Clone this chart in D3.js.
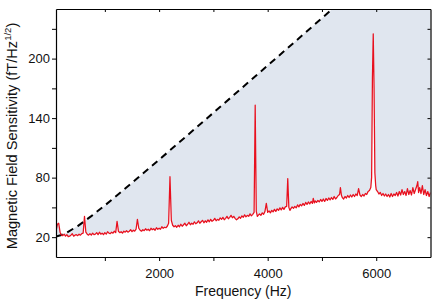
<!DOCTYPE html>
<html>
<head>
<meta charset="utf-8">
<script src="https://cdn.jsdelivr.net/npm/d3@7"></script>
<style>
  html, body { margin: 0; padding: 0; background: #fff; }
  svg { display: block; }
  text { font-family: "Liberation Sans", Arial, Helvetica, sans-serif; fill: #111; }
</style>
</head>
<body>
<svg id="chart" width="436" height="306"></svg>
<script>
// ---- data ----
const xDomain = [100, 7000];
const yDomain = [0, 250];
const xMajorTicks = [2000, 4000, 6000];
const xMinorTicks = [1000, 3000, 5000];
const yMajorTicks = [20, 80, 140, 200];
const yMinorTicks = [50, 110, 170, 230];

// measured sensitivity spectrum: [frequency Hz, fT/Hz^1/2]
const spectrum = [
  [100,26],[125,33],[150,34],[175,25],[200,22],[225,21.5],[250,23],[275,21],[300,22.5],[325,20.5],
  [350,21],[375,22],[400,23.5],[425,21],[450,22],[475,22.5],[500,21.5],[525,23],[550,22],[575,23.5],
  [600,24],[625,41],[650,25],[675,23],[700,22],[725,23.5],[750,22],[775,24],[800,22.5],[825,23],
  [850,24.5],[875,22.5],[900,25],[925,23],[950,24],[975,22.5],[1000,24.5],[1025,23],[1050,25.5],
  [1075,24],[1100,23.5],[1125,25],[1150,24],[1175,26],[1200,24.5],[1225,36],[1250,26],[1275,24.5],
  [1300,25.5],[1325,24],[1350,26],[1375,25],[1400,26.5],[1425,25],[1450,26],[1475,27.5],[1500,25.5],
  [1525,27],[1550,26],[1575,28],[1600,38],[1625,29],[1650,27],[1675,26],[1700,27.5],[1725,26.5],
  [1750,28.5],[1775,27],[1800,28],[1825,26.5],[1850,29],[1875,27.5],[1900,28.5],[1925,27],[1950,29.5],
  [1975,28],[2000,29],[2025,28],[2050,30.5],[2075,29],[2100,30],[2125,29.5],[2150,31],[2175,34],
  [2200,81],[2225,37],[2250,32],[2275,30.5],[2300,31.5],[2325,30],[2350,32],[2375,30.5],[2400,33],
  [2425,31],[2450,32.5],[2475,34],[2500,31.5],[2525,33],[2550,35],[2575,32.5],[2600,34],[2625,33],
  [2650,35.5],[2675,33.5],[2700,34.5],[2725,36.5],[2750,34],[2775,35.5],[2800,37],[2825,34.5],
  [2850,36.5],[2875,35],[2900,37.5],[2925,35.5],[2950,38],[2975,36],[3000,37],[3025,39],[3050,36.5],
  [3075,38],[3100,37],[3125,39.5],[3150,38],[3175,40],[3200,37.5],[3225,39],[3250,41],[3275,38.5],
  [3300,40],[3325,42],[3350,39.5],[3375,41],[3400,39],[3425,37.5],[3450,38.5],[3475,40.5],[3500,39],
  [3525,41.5],[3550,40],[3575,42.5],[3600,40.5],[3625,42],[3650,41],[3675,43.5],[3700,41.5],[3725,43],
  [3750,45],[3770,153],[3790,46],[3810,41],[3825,42],[3850,43.5],[3875,42],[3900,44.5],[3925,43],
  [3950,46],[3975,54],[4000,45],[4025,46.5],[4050,44.5],[4075,47],[4100,45.5],[4125,48],[4150,46],
  [4175,48.5],[4200,47],[4225,49.5],[4250,47.5],[4275,50],[4300,48],[4325,50.5],[4350,51],[4370,79],
  [4390,50],[4410,47],[4425,48.5],[4450,50.5],[4475,49],[4500,51],[4525,49.5],[4550,52.5],[4575,50.5],
  [4600,53],[4625,51.5],[4650,54],[4675,52],[4700,55],[4725,53],[4750,55.5],[4775,53.5],[4800,56],
  [4825,54],[4840,59],[4860,54.5],[4875,56.5],[4900,55],[4925,57],[4950,55.5],[4975,58],[5000,56],
  [5025,58.5],[5050,56],[5075,59],[5100,57],[5125,59.5],[5150,57.5],[5175,60],[5200,58],[5225,61],
  [5250,58.5],[5275,60],[5300,62],[5325,63],[5340,70],[5360,62],[5375,60],[5400,58.5],[5425,61],
  [5450,59.5],[5475,62],[5500,60],[5525,62.5],[5550,60.5],[5575,63],[5600,61],[5625,63.5],[5650,62],
  [5675,69],[5700,62.5],[5725,61],[5750,63],[5775,61.5],[5800,64],[5825,63],[5850,66],[5875,67],
  [5900,70],[5915,80],[5930,180],[5945,225],[5960,170],[5975,85],[5990,72],[6000,68],[6025,66],
  [6050,63.5],[6075,65],[6100,62],[6125,64],[6150,61.5],[6175,63.5],[6200,61],[6225,63],[6250,60.5],
  [6275,64],[6300,61],[6325,63.5],[6350,62],[6375,65],[6400,61.5],[6425,66],[6450,62.5],[6475,68],
  [6500,63],[6525,66],[6550,62],[6575,69],[6600,63],[6625,67],[6650,62.5],[6675,70],[6700,64],
  [6725,68],[6750,72],[6765,76],[6780,65],[6800,70],[6825,64],[6850,72],[6875,63],[6900,68],
  [6925,62],[6950,66],[6975,61],[7000,65]
];

// dashed limit curve: [frequency Hz, fT/Hz^1/2]
const limitCurve = [
  [100,20.6],[200,22.2],[300,24.6],[500,31.2],[750,41.2],[1000,52],[1500,74.7],[2000,98.1],
  [2500,121.7],[3000,145.4],[3500,169.2],[4000,193],[4500,216.9],[5000,240.8],[5500,264.8],
  [6000,288.7],[6500,312.6],[7000,336.6]
];

// ---- layout ----
const svg = d3.select("#chart");
const m = { left: 56, right: 430.5, top: 9, bottom: 257 };
const x = d3.scaleLinear().domain(xDomain).range([m.left, m.right]);
const y = d3.scaleLinear().domain(yDomain).range([m.bottom, m.top]);

svg.append("clipPath").attr("id", "plotclip")
  .append("rect").attr("x", m.left).attr("y", m.top)
  .attr("width", m.right - m.left).attr("height", m.bottom - m.top);

const g = svg.append("g").attr("clip-path", "url(#plotclip)");

// shaded region between measured curve and dashed curve
const lineGen = d3.line().x(d => x(d[0])).y(d => y(d[1]));
const poly = spectrum.concat(limitCurve.slice().reverse());
g.append("path")
  .attr("d", lineGen(poly) + "Z")
  .attr("fill", "#e0e6ef")
  .attr("stroke", "none");

// dashed curve
g.append("path")
  .attr("d", lineGen(limitCurve))
  .attr("fill", "none")
  .attr("stroke", "#000")
  .attr("stroke-width", 2)
  .attr("stroke-dasharray", "7,5");

// measured curve
g.append("path")
  .attr("d", lineGen(spectrum))
  .attr("fill", "none")
  .attr("stroke", "#e8101e")
  .attr("stroke-width", 1.25)
  .attr("stroke-linejoin", "round");

// ---- axes ----
const allX = xMajorTicks.concat(xMinorTicks);
const allY = yMajorTicks.concat(yMinorTicks);

const xBottom = svg.append("g").attr("transform", `translate(0,${m.bottom})`)
  .call(d3.axisBottom(x).tickValues(allX).tickSize(4).tickSizeOuter(0)
    .tickFormat(d => xMajorTicks.includes(d) ? d : ""));
const xTop = svg.append("g").attr("transform", `translate(0,${m.top})`)
  .call(d3.axisBottom(x).tickValues(allX).tickSize(3).tickSizeOuter(0).tickFormat(""));
const yLeft = svg.append("g").attr("transform", `translate(${m.left},0)`)
  .call(d3.axisLeft(y).tickValues(allY).tickSize(4).tickSizeOuter(0)
    .tickFormat(d => yMajorTicks.includes(d) ? d : ""));
const yRight = svg.append("g").attr("transform", `translate(${m.right},0)`)
  .call(d3.axisLeft(y).tickValues(allY).tickSize(3).tickSizeOuter(0).tickFormat(""));

[xBottom, xTop, yLeft, yRight].forEach(a => {
  a.select(".domain").attr("stroke", "#000").attr("stroke-width", 1.2);
  a.selectAll(".tick line").attr("stroke", "#000").attr("stroke-width", 1);
  a.selectAll(".tick text").attr("font-size", 13).attr("fill", "#111")
    .attr("font-family", "'Liberation Sans', Arial, sans-serif");
});
xBottom.selectAll(".tick text").attr("dy", "1.05em");
yLeft.selectAll(".tick text").attr("x", -6);

// axis titles
svg.append("text")
  .attr("x", (m.left + m.right) / 2).attr("y", 296)
  .attr("text-anchor", "middle").attr("font-size", 14)
  .text("Frequency (Hz)");

const yt = svg.append("text")
  .attr("transform", `translate(17,${(m.top + m.bottom) / 2 + 3}) rotate(-90)`)
  .attr("text-anchor", "middle").attr("font-size", 14.6);
yt.append("tspan").text("Magnetic Field Sensitivity (fT/Hz");
yt.append("tspan").attr("font-size", 9.5).attr("dy", -6).text("1/2");
yt.append("tspan").attr("dy", 6).text(")");
</script>
</body>
</html>
